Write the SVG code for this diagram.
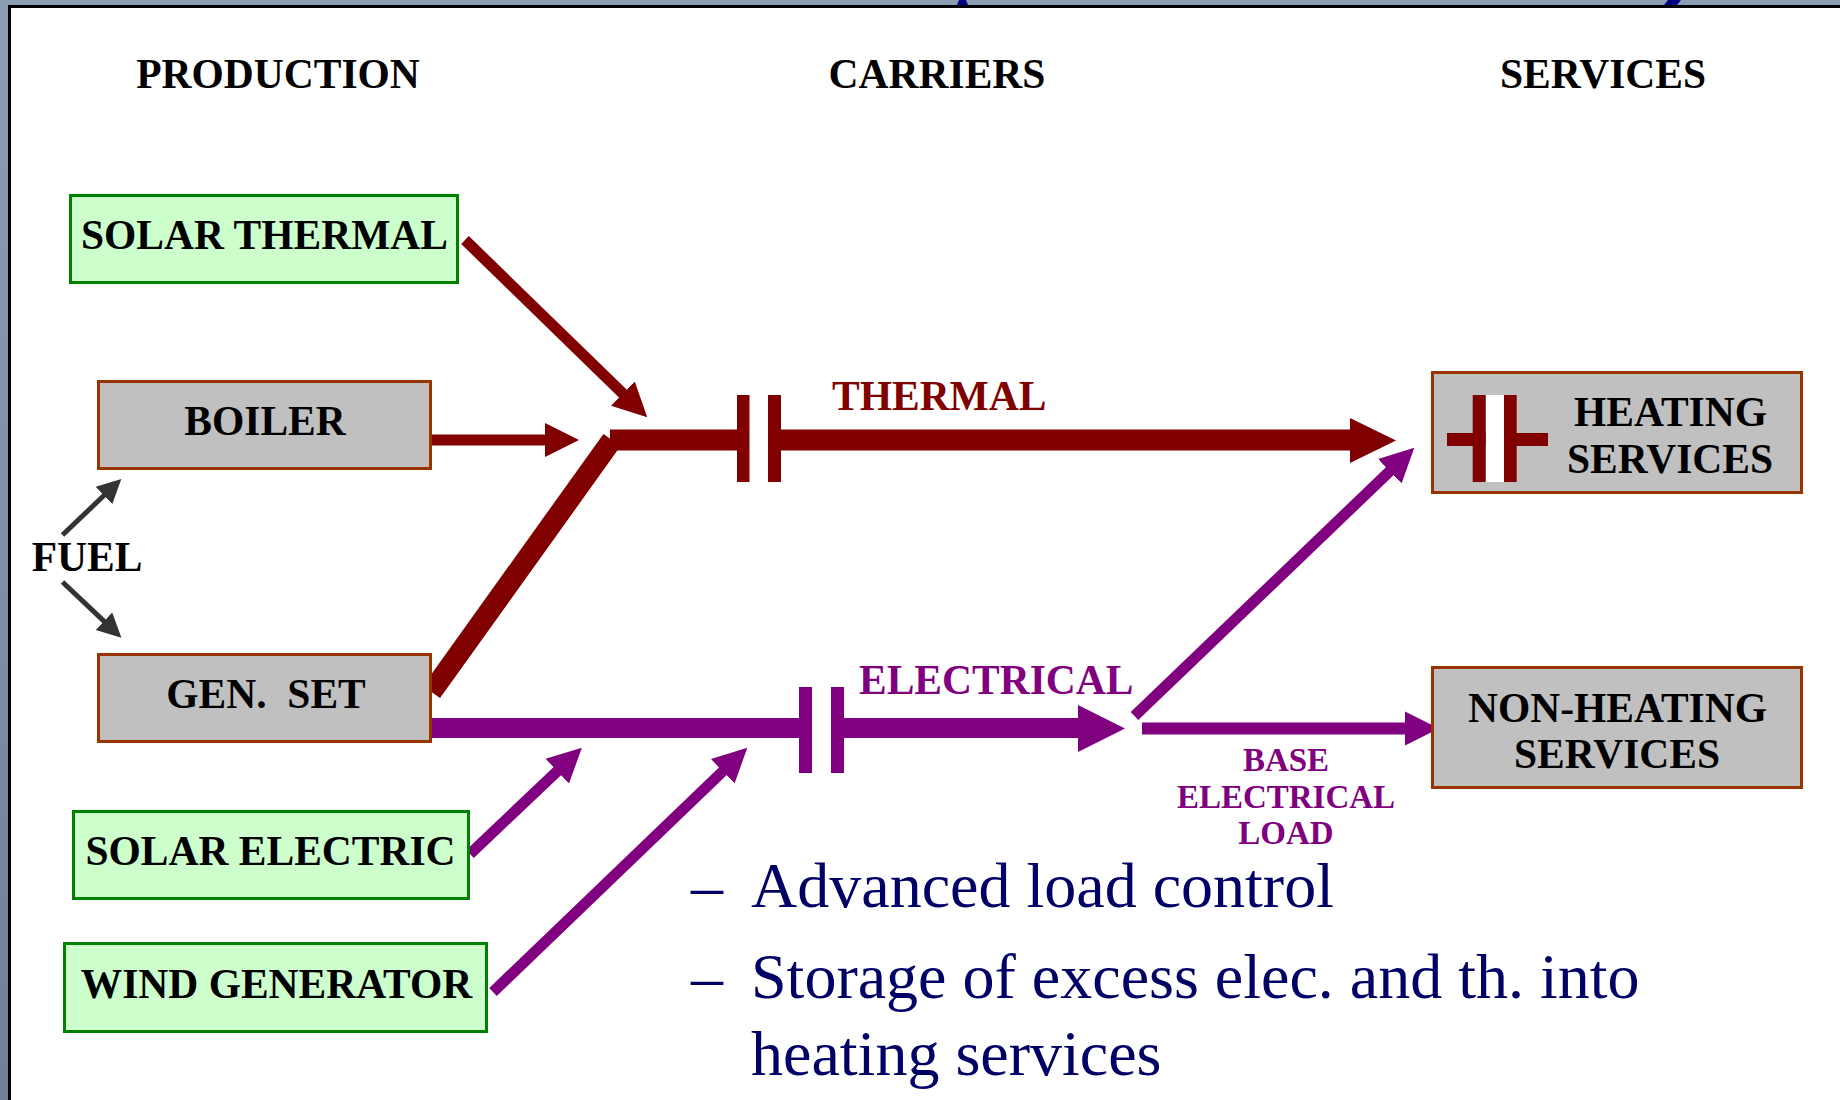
<svg xmlns="http://www.w3.org/2000/svg" width="1840" height="1100" viewBox="0 0 1840 1100">
<defs>
<linearGradient id="bg" x1="0" y1="0" x2="0" y2="1">
<stop offset="0" stop-color="#8c9db3"/>
<stop offset="0.5" stop-color="#7d90a8"/>
<stop offset="1" stop-color="#6f8097"/>
</linearGradient>
<marker id="hm" markerUnits="userSpaceOnUse" markerWidth="36" markerHeight="36" viewBox="0 -17 36 34" refX="1" refY="0" orient="auto"><path d="M0,-17 L34,0 L0,17 z" fill="#800000"/></marker>
<marker id="hp" markerUnits="userSpaceOnUse" markerWidth="36" markerHeight="36" viewBox="0 -17 36 34" refX="1" refY="0" orient="auto"><path d="M0,-17 L34,0 L0,17 z" fill="#800080"/></marker>
<marker id="hf" markerUnits="userSpaceOnUse" markerWidth="26" markerHeight="26" viewBox="0 -12 26 24" refX="1" refY="0" orient="auto"><path d="M0,-12 L24,0 L0,12 z" fill="#333333"/></marker>
</defs>
<style>
.lbl{font-family:"Liberation Serif","Times New Roman",serif;font-weight:bold;font-size:41.5px;fill:#000;text-anchor:middle}
.hdr{font-family:"Liberation Serif","Times New Roman",serif;font-weight:bold;font-size:41.5px;fill:#000;text-anchor:middle}
.tl{font-family:"Liberation Serif","Times New Roman",serif;font-weight:bold;font-size:41.5px;fill:#800000}
.el{font-family:"Liberation Serif","Times New Roman",serif;font-weight:bold;font-size:41.5px;fill:#800080}
.bl{font-family:"Liberation Serif","Times New Roman",serif;font-weight:bold;font-size:33px;fill:#800080;text-anchor:middle}
.bul{font-family:"Liberation Serif","Times New Roman",serif;font-size:64px;fill:#000066}
.grn{fill:#ccffcc;stroke:#008000;stroke-width:3}
.gry{fill:#c0c0c0;stroke:#993300;stroke-width:3}
.mr{stroke:#800000;fill:none;stroke-linecap:butt}
.pu{stroke:#800080;fill:none;stroke-linecap:butt}
.fu{stroke:#333333;stroke-width:5;fill:none}
.mrf{fill:#800000}
.puf{fill:#800080}
</style>
<rect x="0" y="0" width="1840" height="1100" fill="url(#bg)"/>
<rect x="9" y="6" width="1831" height="1094" fill="#ffffff"/>
<path d="M9.5,1100 V6.5 H1840" fill="none" stroke="#000" stroke-width="3"/>
<path d="M959,0 H966 L968,5 H957 z" fill="#000080"/>
<path d="M1668,0 H1681 L1677,5 H1664 z" fill="#000080"/>

<g id="headers">
<text class="hdr" x="278" y="88">PRODUCTION</text>
<text class="hdr" x="937" y="88">CARRIERS</text>
<text class="hdr" x="1603" y="88">SERVICES</text>
</g>

<g id="connectors">
<line class="mr" x1="431.5" y1="692" x2="612" y2="440" stroke-width="21"/>
<line class="mr" x1="465" y1="240" x2="623.6" y2="394.3" stroke-width="11" marker-end="url(#hm)"/>
<line class="mr" x1="431" y1="440" x2="546" y2="440" stroke-width="11" marker-end="url(#hm)"/>
<line class="mr" x1="610" y1="440" x2="737" y2="440" stroke-width="21"/>
<rect class="mrf" x="737" y="395" width="12.5" height="87"/>
<rect class="mrf" x="768" y="395" width="13" height="87"/>
<line class="mr" x1="781" y1="440" x2="1351" y2="440" stroke-width="21"/>
<polygon class="mrf" points="1350,418 1396,440.5 1350,463"/>

<line class="pu" x1="431" y1="728" x2="799" y2="728" stroke-width="20"/>
<rect class="puf" x="799" y="687" width="13" height="86"/>
<rect class="puf" x="831" y="687" width="13" height="86"/>
<line class="pu" x1="844" y1="728" x2="1079" y2="728" stroke-width="20"/>
<polygon class="puf" points="1078,705 1125,728.5 1078,752"/>
<line class="pu" x1="470" y1="854" x2="558" y2="770.4" stroke-width="11" marker-end="url(#hp)"/>
<line class="pu" x1="493" y1="992" x2="723.5" y2="770.6" stroke-width="11" marker-end="url(#hp)"/>
<line class="pu" x1="1134.5" y1="716" x2="1390.5" y2="470.5" stroke-width="11" marker-end="url(#hp)"/>
<line class="pu" x1="1142" y1="728.5" x2="1406" y2="728.5" stroke-width="12" marker-end="url(#hp)"/>

<line class="fu" x1="62.5" y1="535" x2="104.7" y2="494.8" marker-end="url(#hf)"/>
<line class="fu" x1="62.5" y1="582" x2="104.7" y2="621.9" marker-end="url(#hf)"/>
</g>

<g id="solar-thermal">
<rect class="grn" x="70.5" y="195.5" width="387" height="87"/>
<text class="lbl" x="264.5" y="249">SOLAR THERMAL</text>
</g>
<g id="boiler">
<rect class="gry" x="98.5" y="381.5" width="332" height="87"/>
<text class="lbl" x="265" y="435">BOILER</text>
</g>
<g id="fuel">
<text class="lbl" x="87" y="571">FUEL</text>
</g>
<g id="gen-set">
<rect class="gry" x="98.5" y="654.5" width="332" height="87"/>
<text class="lbl" x="266" y="708" xml:space="preserve">GEN.  SET</text>
</g>
<g id="solar-electric">
<rect class="grn" x="73.5" y="811.5" width="395" height="87"/>
<text class="lbl" x="270.5" y="865">SOLAR ELECTRIC</text>
</g>
<g id="wind-generator">
<rect class="grn" x="64.5" y="943.5" width="422" height="88"/>
<text class="lbl" x="276.5" y="998">WIND GENERATOR</text>
</g>

<g id="thermal-label"><text class="tl" x="832" y="410">THERMAL</text></g>
<g id="electrical-label"><text class="el" x="859" y="694">ELECTRICAL</text></g>
<g id="base-load-label">
<text class="bl" x="1286" y="771">BASE</text>
<text class="bl" x="1286" y="807.5">ELECTRICAL</text>
<text class="bl" x="1286" y="844">LOAD</text>
</g>

<g id="heating-services">
<rect class="gry" x="1432.5" y="372.5" width="369" height="120"/>
<rect class="mrf" x="1447" y="433" width="101" height="13"/>
<rect x="1485.7" y="395" width="18.3" height="87" fill="#ffffff"/>
<rect class="mrf" x="1472.7" y="395" width="13" height="87"/>
<rect class="mrf" x="1504" y="395" width="12.7" height="87"/>
<text class="lbl" x="1670.5" y="426">HEATING</text>
<text class="lbl" x="1670" y="473">SERVICES</text>
</g>
<g id="non-heating-services">
<rect class="gry" x="1432.5" y="667.5" width="369" height="120"/>
<text class="lbl" x="1617.5" y="722">NON-HEATING</text>
<text class="lbl" x="1617" y="768">SERVICES</text>
</g>

<g id="bullets">
<text class="bul" x="691" y="907">–</text>
<text class="bul" x="751" y="907">Advanced load control</text>
<text class="bul" x="691" y="998">–</text>
<text class="bul" x="751" y="998">Storage of excess elec. and th. into</text>
<text class="bul" x="751" y="1075">heating services</text>
</g>
</svg>
